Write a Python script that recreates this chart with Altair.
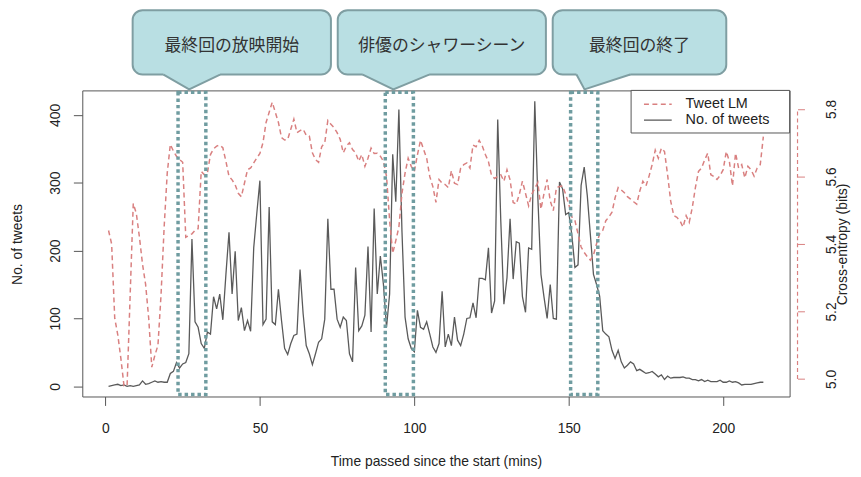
import altair as alt
import pandas as pd

# ---------------- data ----------------
minutes = list(range(1, 214))

tweets = [
    0, 1, 2, 3, 1, 2, 0, 1, 0, 1, 2, 8, 3, 4, 6, 8, 6, 7, 6, 6,
    19, 22, 35, 27, 33, 35, 48, 217, 95, 87, 63, 56, 80, 77, 132, 114, 136, 98, 165, 227,
    136, 199, 97, 116, 82, 97, 81, 204, 255, 303, 91, 99, 264, 95, 91, 143, 97, 56, 47, 63,
    75, 77, 172, 107, 60, 48, 32, 48, 65, 70, 99, 247, 143, 143, 99, 87, 102, 97, 48, 36,
    175, 82, 89, 105, 206, 80, 262,
    136, 192, 150, 87, 136, 342, 272, 408, 228, 102, 70, 56, 51, 112, 87, 84, 95, 77, 58, 50,
    63, 140, 58, 77, 60, 102, 68, 60, 77, 100, 101, 123, 101, 159, 159, 157, 204, 108, 126, 393,
    243, 121, 160, 247, 158,
    213, 211, 132, 109, 204, 202, 420, 277, 165, 131, 100, 150, 100, 99, 301, 291, 253, 256, 223, 175,
    179, 296, 323, 281, 223, 165, 150, 133, 82, 77, 73, 53, 41, 53, 36, 27, 31, 36, 33, 23,
    25, 22, 19, 20, 22,
    18, 14, 17, 10, 15, 12, 13, 13, 13, 14, 12, 12, 10, 10, 8, 10, 7, 9, 7, 7,
    7, 9, 6, 6, 8, 6, 7, 5, 2, 3, 3, 3, 4, 5, 6, 6,
]

entropy = [
    5.44, 5.40, 5.18, 5.13, 5.06, 4.98, 4.98, 5.25, 5.52, 5.49,
    5.42, 5.34, 5.28, 5.18, 5.035, 5.07, 5.10, 5.25, 5.45, 5.61,
    5.695, 5.675, 5.66, 5.65, 5.642, 5.42, 5.425, 5.43, 5.44, 5.445,
    5.615, 5.605, 5.61, 5.665, 5.682, 5.69, 5.693, 5.685, 5.645, 5.60,
    5.59, 5.575, 5.55, 5.54, 5.58, 5.62, 5.625, 5.64, 5.655, 5.668,
    5.70, 5.76, 5.79, 5.82, 5.79, 5.76, 5.715, 5.708, 5.71, 5.74,
    5.77, 5.73, 5.736, 5.74, 5.722, 5.72, 5.67, 5.65, 5.642, 5.688,
    5.70, 5.766, 5.755, 5.745, 5.73, 5.71, 5.67, 5.69, 5.70, 5.68,
    5.67, 5.645, 5.665, 5.63, 5.654, 5.684, 5.668, 5.669, 5.66, 5.645,
    5.60, 5.47, 5.372, 5.41, 5.45, 5.55, 5.61, 5.654, 5.63, 5.615,
    5.664, 5.707, 5.68, 5.654, 5.60, 5.57, 5.523, 5.591, 5.58, 5.576,
    5.567, 5.617, 5.58, 5.576, 5.625, 5.635, 5.64, 5.625, 5.693, 5.688,
    5.707, 5.69, 5.665, 5.644, 5.603, 5.594, 5.60, 5.605, 5.586, 5.62,
    5.59, 5.523, 5.518, 5.547, 5.586, 5.55, 5.513, 5.547, 5.565, 5.582,
    5.503, 5.55, 5.591, 5.528, 5.499, 5.567, 5.57, 5.572, 5.547, 5.518,
    5.48, 5.469, 5.43, 5.391, 5.375, 5.362, 5.352, 5.367, 5.401, 5.43,
    5.44, 5.469, 5.48, 5.494, 5.537, 5.567, 5.56, 5.552, 5.54, 5.533,
    5.525, 5.518, 5.557, 5.586, 5.572, 5.601, 5.635, 5.678, 5.654, 5.684,
    5.674, 5.605, 5.527, 5.484, 5.479, 5.469, 5.45, 5.484, 5.464, 5.508,
    5.567, 5.615, 5.625, 5.649, 5.669, 5.605, 5.60, 5.591, 5.603, 5.62,
    5.674, 5.645, 5.572, 5.669, 5.625, 5.635, 5.596, 5.63, 5.62, 5.601,
    5.625, 5.635, 5.718,
]

event_labels = ["最終回の放映開始", "俳優のシャワーシーン", "最終回の終了"]
event_start = [23.5, 90.6, 150.6]
event_end = [32.5, 99.7, 159.4]

# callout extents (in minutes on the x axis)
callout_start = [8.8, 75.2, 144.8]
callout_end = [73.0, 142.6, 201.0]
pointer_left = [18.8, 83.3, 152.5]
pointer_tip = [27.1, 93.2, 155.1]
pointer_right = [37.1, 104.8, 169.9]

legend_labels = ["Tweet LM", "No. of tweets"]
x_ticks = [0, 50, 100, 150, 200]
y_ticks = [0, 100, 200, 300, 400]
e_ticks = [5.0, 5.2, 5.4, 5.6, 5.8]

# ---------------- style ----------------
W, H = 714, 309
XDOM = [-7.5, 221.5]
YDOM_T = [-15, 436]
YDOM_E = [4.948, 5.855]

FONT = "Liberation Sans"
JFONT = "Noto Sans CJK JP"
GRAY = "#5a5a5a"
AXC = "#555555"
TXT = "#222222"
PINK = "#d98080"
TEAL = "#6f9ca0"
CALL_FILL = "#b9dfe3"
CALL_STROKE = "#7f9ea2"

series = pd.DataFrame({"minute": minutes, "tweets": tweets, "entropy": entropy})

xscale = alt.Scale(domain=XDOM, nice=False, zero=False)
tscale = alt.Scale(domain=YDOM_T, nice=False, zero=False)
escale = alt.Scale(domain=YDOM_E, nice=False, zero=False)

xaxis = alt.Axis(
    values=x_ticks, title="Time passed since the start (mins)", domain=False, grid=False,
    tickSize=9, tickColor=AXC, labelPadding=16, labelFontSize=14, labelFont=FONT,
    labelColor=TXT, titleFont=FONT, titleFontSize=14, titleFontWeight="normal",
    titleColor=TXT, titleY=66, titleBaseline="middle", labelFlush=False,
)
yaxis_t = alt.Axis(
    values=y_ticks, title="No. of tweets", domain=False, grid=False, tickSize=9,
    tickColor=AXC, labelAngle=-90, labelAlign="center", labelBaseline="bottom",
    labelPadding=11, labelFontSize=14, labelFont=FONT, labelColor=TXT,
    titleFont=FONT, titleFontSize=14, titleFontWeight="normal", titleColor=TXT,
    titleAngle=-90, titleX=-65, titleY=155, titleAlign="center", titleBaseline="middle",
)
yaxis_e = alt.Axis(
    orient="right", values=e_ticks, format=".1f", title="Cross-entropy (bits)",
    domain=False, grid=False, offset=8, tickSize=7, tickColor=PINK,
    labelAngle=-90, labelAlign="center", labelBaseline="top", labelPadding=20,
    labelFontSize=14, labelFont=FONT, labelColor=TXT,
    titleFont=FONT, titleFontSize=14, titleFontWeight="normal", titleColor=TXT,
    titleAngle=-90, titleX=45, titleY=155, titleAlign="center", titleBaseline="middle",
)

tweets_line = alt.Chart(series).mark_line(color=GRAY, strokeWidth=1.3).encode(
    x=alt.X("minute:Q", scale=xscale, axis=xaxis),
    y=alt.Y("tweets:Q", scale=tscale, axis=yaxis_t),
)
lm_line = alt.Chart(series).mark_line(color=PINK, strokeWidth=1.5, strokeDash=[5, 3.5]).encode(
    x=alt.X("minute:Q", scale=xscale, axis=xaxis),
    y=alt.Y("entropy:Q", scale=escale, axis=yaxis_e),
)

right_axis_df = pd.DataFrame({"lo": [e_ticks[0]], "hi": [e_ticks[-1]]})
right_rule = alt.Chart(right_axis_df).mark_rule(color=PINK, strokeDash=[4, 3], strokeWidth=1.2).encode(
    x=alt.value(W + 8),
    y=alt.Y("lo:Q", scale=escale, axis=None),
    y2="hi:Q",
)

events = pd.DataFrame({
    "label": event_labels, "start": event_start, "end": event_end,
    "cstart": callout_start, "cend": callout_end,
})
events["cmid"] = (events["cstart"] + events["cend"]) / 2

event_rects = alt.Chart(events).mark_rect(
    fill="white", fillOpacity=0, stroke=TEAL, strokeWidth=3.5, strokeDash=[3.5, 3]
).encode(
    x=alt.X("start:Q", scale=xscale, axis=xaxis), x2="end:Q",
    y=alt.value(2), y2=alt.value(H - 2),
)

callout_rects = alt.Chart(events).mark_rect(
    fill=CALL_FILL, stroke=CALL_STROKE, strokeWidth=2, cornerRadius=10
).encode(
    x=alt.X("cstart:Q", scale=xscale, axis=xaxis), x2="cend:Q",
    y=alt.value(-81), y2=alt.value(-16),
)

prow = []
for i in range(3):
    prow.append({"id": i, "m": pointer_left[i], "py": -16})
    prow.append({"id": i, "m": pointer_tip[i], "py": -1})
    prow.append({"id": i, "m": pointer_right[i], "py": -16})
pointers = pd.DataFrame(prow)

pointer_fill = alt.Chart(pointers).mark_area(fill=CALL_FILL, opacity=1).encode(
    x=alt.X("m:Q", scale=xscale, axis=xaxis),
    y=alt.Y("py:Q", scale=None, stack=None),
    y2=alt.value(-19),
    detail="id:N",
)
pointer_edge = alt.Chart(pointers).mark_line(color=CALL_STROKE, strokeWidth=2).encode(
    x=alt.X("m:Q", scale=xscale, axis=xaxis),
    y=alt.Y("py:Q", scale=None),
    detail="id:N",
)

callout_text = alt.Chart(events).mark_text(
    font=JFONT, fontSize=17, color="#333333", align="center", baseline="middle"
).encode(
    x=alt.X("cmid:Q", scale=xscale, axis=xaxis),
    y=alt.value(-45),
    text="label:N",
)

one = pd.DataFrame({"k": [0]})
legend_box = alt.Chart(one).mark_rect(fill="white", stroke=AXC, strokeWidth=1).encode(
    x=alt.value(554), x2=alt.value(W), y=alt.value(0), y2=alt.value(43)
)
legend_lm = alt.Chart(one).mark_rule(color=PINK, strokeWidth=1.5, strokeDash=[5, 3.5]).encode(
    x=alt.value(567), x2=alt.value(595), y=alt.value(14)
)
legend_tw = alt.Chart(one).mark_rule(color=GRAY, strokeWidth=1.3).encode(
    x=alt.value(567), x2=alt.value(595), y=alt.value(30)
)
legend_t1 = alt.Chart(one).mark_text(
    font=FONT, fontSize=14.5, color=TXT, align="left", baseline="middle"
).encode(x=alt.value(609), y=alt.value(14), text=alt.value(legend_labels[0]))
legend_t2 = alt.Chart(one).mark_text(
    font=FONT, fontSize=14.5, color=TXT, align="left", baseline="middle"
).encode(x=alt.value(609), y=alt.value(30), text=alt.value(legend_labels[1]))

chart = alt.layer(
    tweets_line, lm_line, right_rule, event_rects,
    callout_rects, pointer_fill, pointer_edge, callout_text,
    legend_box, legend_lm, legend_tw, legend_t1, legend_t2,
).resolve_scale(y="independent").properties(
    width=W, height=H,
    autosize=alt.AutoSizeParams(type="none"),
    padding={"left": 75, "top": 81, "right": 64, "bottom": 71},
    background="white",
).configure_view(stroke=AXC, strokeWidth=1)

chart.save("out.html", embed_options={"renderer": "svg", "actions": False})
